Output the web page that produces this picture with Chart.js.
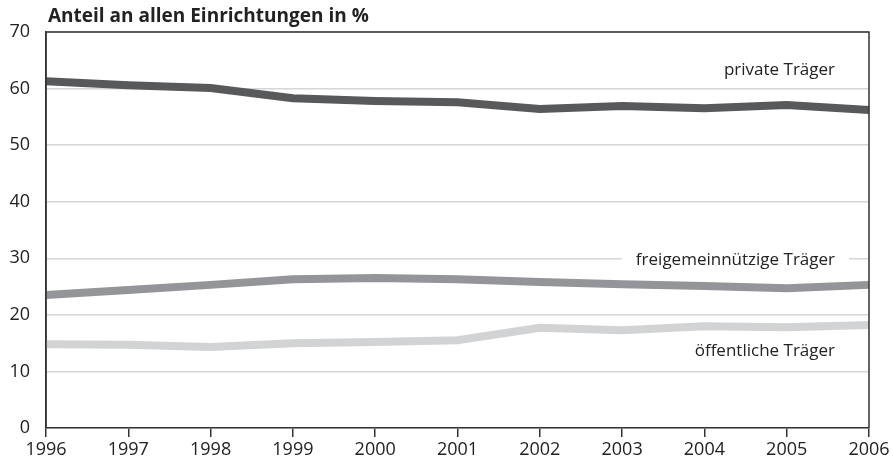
<!DOCTYPE html>
<html>
<head>
<meta charset="utf-8">
<script src="https://cdn.jsdelivr.net/npm/chart.js@4.4.0/dist/chart.umd.min.js"></script>
<style>
  html, body { margin: 0; padding: 0; background: #fff; }
  #wrap { width: 893px; height: 467px; position: relative; }
</style>
</head>
<body>
<div id="wrap"><canvas id="chart"></canvas></div>
<script>
// data
const years = ['1996', '1997', '1998', '1999', '2000', '2001', '2002', '2003', '2004', '2005', '2006'];
const privat = [61.3, 60.6, 60.1, 58.3, 57.8, 57.6, 56.4, 56.9, 56.5, 57.1, 56.2];
const freigemein = [23.5, 24.4, 25.3, 26.3, 26.5, 26.3, 25.8, 25.4, 25.1, 24.7, 25.3];
const oeffentlich = [14.8, 14.7, 14.3, 15.0, 15.2, 15.5, 17.7, 17.3, 18.0, 17.8, 18.2];
const yTicks = [0, 10, 20, 30, 40, 50, 60, 70];
const title = 'Anteil an allen Einrichtungen in %';

const FONT = "'Liberation Sans Narrow', 'Open Sans', sans-serif";

// series labels drawn inside the plot, right edge anchored near the last year
const seriesLabels = [
    { text: 'private Träger', value: 63.2 },
    { text: 'freigemeinnützige Träger', value: 29.6 },
    { text: 'öffentliche Träger', value: 13.5 },
];

const framePlugin = {
    id: 'frame',
    beforeDatasetsDraw(chart) {
        const { ctx, scales } = chart;
        ctx.save();
        ctx.font = '17px ' + FONT;
        ctx.textAlign = 'right';
        ctx.textBaseline = 'middle';
        seriesLabels.forEach(l => {
            const x = scales.x.getPixelForValue(years.length - 1) - 34;
            const y = scales.y.getPixelForValue(l.value);
            const w = ctx.measureText(l.text).width;
            ctx.fillStyle = '#fff';
            ctx.fillRect(x - w - 14, y - 10, w + 28, 20);
            ctx.fillStyle = '#222';
            ctx.fillText(l.text, x, y);
        });
        ctx.restore();
    },
    afterDraw(chart) {
        const { ctx, chartArea: a } = chart;
        ctx.save();
        ctx.strokeStyle = '#333';
        ctx.lineWidth = 1.5;
        ctx.beginPath();
        ctx.moveTo(a.left, a.bottom);
        ctx.lineTo(a.left, a.top);
        ctx.lineTo(a.right, a.top);
        ctx.lineTo(a.right, a.bottom);
        ctx.stroke();
        ctx.font = 'bold 19px ' + FONT;
        ctx.fillStyle = '#222';
        ctx.textAlign = 'left';
        ctx.textBaseline = 'middle';
        ctx.fillText(title, a.left + 2, 17);
        ctx.restore();
    }
};

const ctx = document.getElementById('chart').getContext('2d');

const myChart = new Chart(ctx, {
    type: 'line',
    data: {
        labels: years,
        datasets: [
            { label: 'private Träger', data: privat, borderColor: '#58595b', borderWidth: 8, pointRadius: 0, tension: 0 },
            { label: 'freigemeinnützige Träger', data: freigemein, borderColor: '#939598', borderWidth: 8, pointRadius: 0, tension: 0 },
            { label: 'öffentliche Träger', data: oeffentlich, borderColor: '#d1d3d4', borderWidth: 8, pointRadius: 0, tension: 0 },
        ],
    },
    options: {
        responsive: true,
        maintainAspectRatio: false,
        animation: false,
        layout: { padding: { left: 0, right: 24, top: 32, bottom: 0 } },
        plugins: {
            legend: { display: false },
            tooltip: { enabled: false },
        },
        scales: {
            x: {
                offset: false,
                grid: { drawOnChartArea: false, drawTicks: true, tickLength: 9, color: '#333', lineWidth: 1.5 },
                border: { color: '#333', width: 1.5 },
                ticks: { color: '#222', font: { family: FONT, size: 18 }, padding: 2, maxRotation: 0, autoSkip: false },
                afterFit(scale) { scale.height = 39; },
            },
            y: {
                min: 0,
                max: 70,
                afterBuildTicks(scale) { scale.ticks = yTicks.map(v => ({ value: v })); },
                grid: { color: '#d6d6d6', lineWidth: 1.5, drawTicks: false },
                border: { color: '#333', width: 1.5 },
                ticks: { color: '#222', font: { family: FONT, size: 18 }, padding: 16 },
                afterFit(scale) { scale.width = 46; },
            },
        },
    },
    plugins: [framePlugin],
});
</script>
</body>
</html>
